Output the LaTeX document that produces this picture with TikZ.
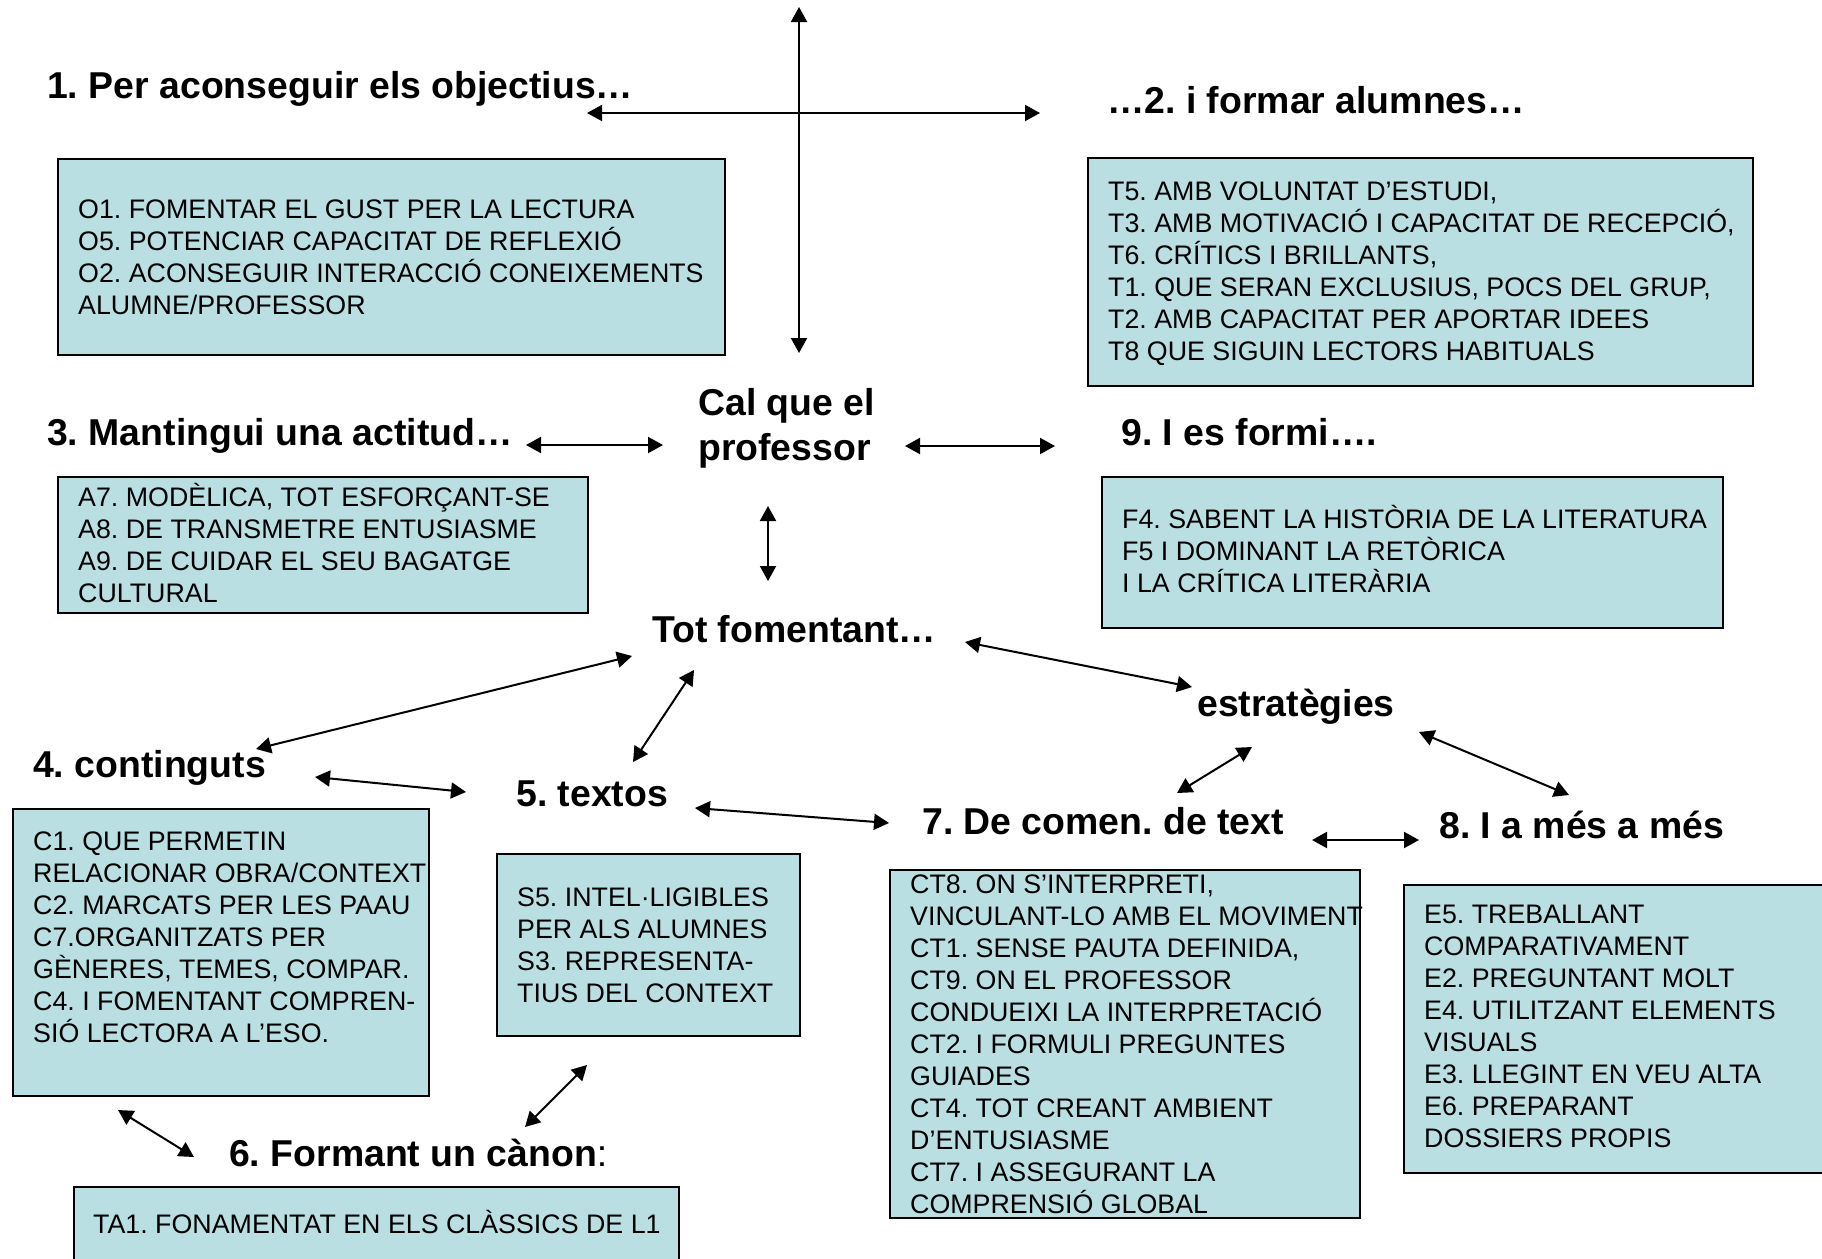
\documentclass[tikz,border=0pt]{standalone}
\usepackage{fontspec}
\setmainfont{Liberation Sans}
\usetikzlibrary{arrows.meta}
\definecolor{boxfill}{RGB}{185,223,226}
\frenchspacing
\tikzset{
  hd/.style={inner sep=0pt, anchor=base west, font=\fontsize{37.4}{45}\selectfont\bfseries, align=left},
  bodytxt/.style={inner sep=0pt, anchor=base west, font=\fontsize{26.8}{32}\selectfont, align=left},
  panel/.style={draw=black, line width=2.2pt, fill=boxfill, inner sep=0pt, anchor=north west},
  link/.style={line width=2pt, {Triangle[length=15pt,width=16pt]}-{Triangle[length=15pt,width=16pt]}}
}
\newcommand{\panelat}[5]{\node[panel, minimum width=#3pt-#1pt, minimum height=#4pt-#2pt] (#5) at (#1,#2) {};}
\begin{document}
\begin{tikzpicture}[x=1pt,y=-1pt]
\useasboundingbox[fill=white] (0,0) rectangle (1822,1258);
% boxes
\panelat{57}{158}{724}{354}{bO}
\panelat{1087}{157}{1752}{385}{bT}
\panelat{57}{476}{587}{612}{bA}
\panelat{1101}{476}{1722}{627}{bF}
\panelat{12}{808}{428}{1095}{bC}
\panelat{496}{853}{799}{1035}{bS}
\panelat{73}{1186}{678}{1275}{bTA}
\panelat{889}{869}{1359}{1217}{bCT}
\panelat{1403}{884}{1840}{1172}{bE}
% headings (anchor = baseline of last line)
\node[hd] (h1) at (47,98) {1. Per aconseguir els objectius…};
\node[hd] (h2) at (1107,113) {…2. i formar alumnes…};
\node[hd] (cal) at (698,460) {Cal que el\\professor};
\node[hd] (h3) at (47,445) {3. Mantingui una actitud…};
\node[hd] (h9) at (1121,445) {9. I es formi….};
\node[hd] (tot) at (652,642) {Tot fomentant…};
\node[hd] (est) at (1197,716) {estratègies};
\node[hd] (h4) at (33,777) {4. continguts};
\node[hd] (h5) at (516,806) {5. textos};
\node[hd] (h7) at (922,834) {7. De comen. de text};
\node[hd] (h8) at (1439,838) {8. I a més a més};
\node[hd] (h6) at (229,1166) {6. Formant un cànon\mdseries:};
% body texts (anchor = baseline of last line)
\node[bodytxt] (tO) at (78,314) {O1. FOMENTAR EL GUST PER LA LECTURA\\O5. POTENCIAR CAPACITAT DE REFLEXIÓ\\O2. ACONSEGUIR INTERACCIÓ CONEIXEMENTS\\ALUMNE/PROFESSOR};
\node[bodytxt] (tT) at (1108,360) {T5. AMB VOLUNTAT D’ESTUDI,\\T3. AMB MOTIVACIÓ I CAPACITAT DE RECEPCIÓ,\\T6. CRÍTICS I BRILLANTS,\\T1. QUE SERAN EXCLUSIUS, POCS DEL GRUP,\\T2. AMB CAPACITAT PER APORTAR IDEES\\T8 QUE SIGUIN LECTORS HABITUALS};
\node[bodytxt] (tA) at (78,602) {A7. MODÈLICA, TOT ESFORÇANT-SE\\A8. DE TRANSMETRE ENTUSIASME\\A9. DE CUIDAR EL SEU BAGATGE\\CULTURAL};
\node[bodytxt] (tF) at (1122,592) {F4. SABENT LA HISTÒRIA DE LA LITERATURA\\F5 I DOMINANT LA RETÒRICA\\I LA CRÍTICA LITERÀRIA};
\node[bodytxt] (tC) at (33,1042) {C1. QUE PERMETIN\\RELACIONAR OBRA/CONTEXT\\C2. MARCATS PER LES PAAU\\C7.ORGANITZATS PER\\GÈNERES, TEMES, COMPAR.\\C4. I FOMENTANT COMPREN-\\SIÓ LECTORA A L’ESO.};
\node[bodytxt] (tS) at (517,1002) {S5. INTEL·LIGIBLES\\PER ALS ALUMNES\\S3. REPRESENTA-\\TIUS DEL CONTEXT};
\node[bodytxt] (tTA) at (93,1233) {TA1. FONAMENTAT EN ELS CLÀSSICS DE L1};
\node[bodytxt] (tCT) at (910,1213) {CT8. ON S’INTERPRETI,\\VINCULANT-LO AMB EL MOVIMENT\\CT1. SENSE PAUTA DEFINIDA,\\CT9. ON EL PROFESSOR\\CONDUEIXI LA INTERPRETACIÓ\\CT2. I FORMULI PREGUNTES\\GUIADES\\CT4. TOT CREANT AMBIENT\\D’ENTUSIASME\\CT7. I ASSEGURANT LA\\COMPRENSIÓ GLOBAL};
\node[bodytxt] (tE) at (1424,1147) {E5. TREBALLANT\\COMPARATIVAMENT\\E2. PREGUNTANT MOLT\\E4. UTILITZANT ELEMENTS\\VISUALS\\E3. LLEGINT EN VEU ALTA\\E6. PREPARANT\\DOSSIERS PROPIS};
% connector end points
\coordinate (v1) at (799,7);   \coordinate (v2) at (799,353);
\coordinate (hA) at (587,113); \coordinate (hB) at (1040,113);
\coordinate (c3a) at (526,445); \coordinate (c3b) at (663,445);
\coordinate (c9a) at (905,446); \coordinate (c9b) at (1055,446);
\coordinate (ctA) at (768,506); \coordinate (ctB) at (768,581);
\coordinate (t4a) at (632,656); \coordinate (t4b) at (256,749);
\coordinate (t5a) at (694,670); \coordinate (t5b) at (633,762);
\coordinate (p45a) at (315,777); \coordinate (p45b) at (466,792);
\coordinate (teA) at (965,642); \coordinate (teB) at (1192,687);
\coordinate (e7a) at (1252,747); \coordinate (e7b) at (1177,793);
\coordinate (e8a) at (1419,732); \coordinate (e8b) at (1569,795);
\coordinate (p57a) at (695,808); \coordinate (p57b) at (889,823);
\coordinate (p78a) at (1312,840); \coordinate (p78b) at (1419,840);
\coordinate (c6a) at (118,1110); \coordinate (c6b) at (194,1157);
\coordinate (s6a) at (587,1065); \coordinate (s6b) at (525,1127);
% connectors
\draw[link] (v1) -- (v2);
\draw[link] (hA) -- (hB);
\draw[link] (c3a) -- (c3b);
\draw[link] (c9a) -- (c9b);
\draw[link] (ctA) -- (ctB);
\draw[link] (t4a) -- (t4b);
\draw[link] (t5a) -- (t5b);
\draw[link] (p45a) -- (p45b);
\draw[link] (teA) -- (teB);
\draw[link] (e7a) -- (e7b);
\draw[link] (e8a) -- (e8b);
\draw[link] (p57a) -- (p57b);
\draw[link] (p78a) -- (p78b);
\draw[link] (c6a) -- (c6b);
\draw[link] (s6a) -- (s6b);
\end{tikzpicture}
\end{document}
